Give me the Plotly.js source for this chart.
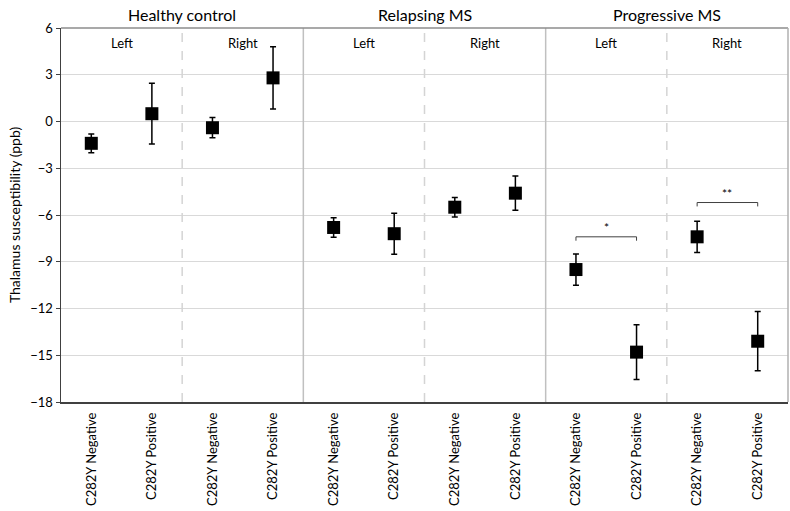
<!DOCTYPE html>
<html>
<head>
<meta charset="utf-8">
<script src="https://cdn.plot.ly/plotly-3.0.1.min.js"></script>
<style>
  body { margin: 0; background: #fff; }
  #chart { width: 790px; height: 511px; }
</style>
</head>
<body>
<div id="chart"></div>
<script>
// values (ppb), mean and error half-width
const tickLabels = ['C282Y Negative', 'C282Y Positive', 'C282Y Negative', 'C282Y Positive',
                    'C282Y Negative', 'C282Y Positive', 'C282Y Negative', 'C282Y Positive',
                    'C282Y Negative', 'C282Y Positive', 'C282Y Negative', 'C282Y Positive'];
const means = [-1.4, 0.5, -0.4, 2.8, -6.8, -7.2, -5.5, -4.6, -9.5, -14.8, -7.4, -14.1];
const errors = [0.6, 1.95, 0.65, 2.0, 0.62, 1.32, 0.63, 1.1, 1.0, 1.75, 1.0, 1.9];

const groups = ['Healthy control', 'Relapsing MS', 'Progressive MS'];
const sides = ['Left', 'Right', 'Left', 'Right', 'Left', 'Right'];

// significance brackets: between two category indices
const comparisons = [
    { a: 8, b: 9, y: -7.4, label: '*' },
    { a: 10, b: 11, y: -5.2, label: '**' }
];

const xs = means.map((m, i) => i);

const trace = {
    x: xs,
    y: means,
    type: 'scatter',
    mode: 'markers',
    marker: { symbol: 'square', size: 13, color: '#000' },
    error_y: { type: 'data', array: errors, visible: true, color: '#000', thickness: 1.5, width: 3 },
    hoverinfo: 'y'
};

const shapes = [];
const annotations = [];

// dividers between sides (dashed) and groups (solid)
for (let k = 1; k < sides.length; k++) {
    const pos = k * 2 - 0.5;
    const solid = k % 2 === 0;
    shapes.push({
        type: 'line', xref: 'x', yref: 'paper', x0: pos, x1: pos, y0: 0, y1: 1,
        line: { color: solid ? '#c0c0c0' : '#d4d4d4', width: 1.5, dash: solid ? 'solid' : 'dash' }
    });
}
// top and right border of plot box
shapes.push({ type: 'line', xref: 'paper', yref: 'paper', x0: 0, x1: 1, y0: 1, y1: 1, line: { color: '#8c8c8c', width: 1.5 } });
shapes.push({ type: 'line', xref: 'paper', yref: 'paper', x0: 1, x1: 1, y0: 0, y1: 1, line: { color: '#b0b0b0', width: 1.5 } });

groups.forEach((g, i) => {
    annotations.push({
        x: i * 4 + 1.5, y: 1, xref: 'x', yref: 'paper', yanchor: 'bottom', yshift: 2,
        text: g, showarrow: false, font: { size: 16, color: '#000' }
    });
});
sides.forEach((s, i) => {
    annotations.push({
        x: i * 2 + 0.5, y: 1, xref: 'x', yref: 'paper', yanchor: 'top', yshift: -5,
        text: s, showarrow: false, font: { size: 13, color: '#000' }
    });
});
comparisons.forEach(c => {
    const drop = 0.25;
    shapes.push({
        type: 'path', xref: 'x', yref: 'y',
        path: `M ${c.a} ${c.y - drop} L ${c.a} ${c.y} L ${c.b} ${c.y} L ${c.b} ${c.y - drop}`,
        line: { color: '#404040', width: 1 }
    });
    annotations.push({
        x: (c.a + c.b) / 2, y: c.y, xref: 'x', yref: 'y', yanchor: 'bottom', yshift: 0,
        text: c.label, showarrow: false, font: { size: 12, color: '#000' }
    });
});

const layout = {
    width: 790,
    height: 511,
    margin: { l: 61, r: 2, t: 28, b: 109 },
    paper_bgcolor: '#fff',
    plot_bgcolor: '#fff',
    font: { family: 'Lato, "Liberation Sans", sans-serif', color: '#000' },
    showlegend: false,
    xaxis: {
        range: [-0.5, 11.5],
        tickvals: xs,
        ticktext: tickLabels,
        tickangle: -90,
        tickfont: { size: 13, color: '#000' },
        ticklabelstandoff: 4,
        showgrid: false,
        zeroline: false,
        showline: true,
        linecolor: '#404040',
        linewidth: 1.5,
        ticks: '',
        fixedrange: true
    },
    yaxis: {
        range: [-18, 6],
        tickvals: [-18, -15, -12, -9, -6, -3, 0, 3, 6],
        tickfont: { size: 13, color: '#000' },
        gridcolor: '#d9d9d9',
        gridwidth: 1,
        zeroline: false,
        showline: true,
        linecolor: '#404040',
        linewidth: 1.5,
        ticks: 'outside',
        ticklen: 4,
        tickcolor: '#404040',
        title: { text: 'Thalamus susceptibility (ppb)', font: { size: 14, color: '#000' }, standoff: 6 }
    },
    shapes: shapes,
    annotations: annotations
};

Plotly.newPlot('chart', [trace], layout, { displayModeBar: false, staticPlot: true });
</script>
</body>
</html>
